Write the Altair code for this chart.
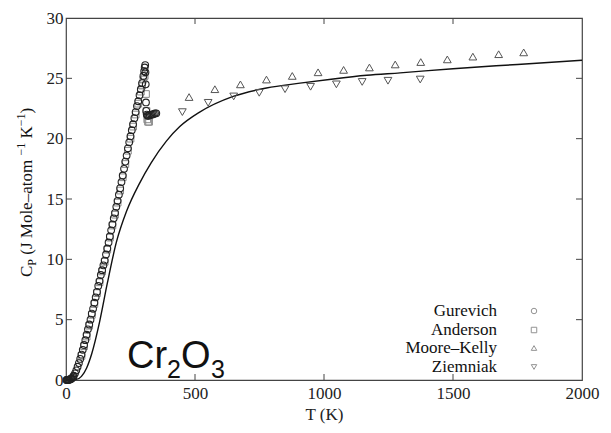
import altair as alt
import pandas as pd

# ---------------- data ----------------
gur_T = [2, 4, 6, 8, 10, 12, 15, 18, 20, 22, 25, 28, 30, 35, 40, 45, 50, 55, 60, 65, 70, 75, 80, 85, 90, 95,
         100, 105, 110, 115, 120, 125, 130, 135, 140, 145, 150, 155, 160, 165, 170, 175, 180, 185, 190, 195,
         200, 205, 210, 215, 220, 225, 230, 235, 240, 245, 250, 255, 260, 265, 270, 275, 280, 285, 290, 295,
         300, 303, 305, 307, 308, 309, 310, 311, 313, 316, 320, 325, 330, 335, 340, 345, 350]
gur_Cp = [0.0, 0.0, 0.0, 0.01, 0.02, 0.03, 0.05, 0.08, 0.1, 0.13, 0.2, 0.28, 0.35, 0.55, 0.8, 1.1, 1.4, 1.75,
          2.1, 2.5, 2.9, 3.3, 3.75, 4.2, 4.6, 5.0, 5.5, 5.9, 6.4, 6.85, 7.3, 7.8, 8.2, 8.7, 9.1, 9.5, 9.9,
          10.4, 10.9, 11.4, 11.9, 12.4, 12.9, 13.4, 13.85, 14.35, 14.85, 15.35, 15.9, 16.4, 16.95, 17.5, 18.1,
          18.6, 19.2, 19.7, 20.2, 20.7, 21.2, 21.7, 22.2, 22.7, 23.1, 23.6, 24.1, 24.6, 25.2, 25.6, 25.9,
          26.1, 25.5, 24.5, 23.0, 22.3, 22.0, 21.9, 21.9, 21.95, 22.0, 22.0, 22.05, 22.1, 22.1]

and_T = [60, 70, 80, 90, 100, 110, 120, 130, 140, 150, 160, 170, 180, 190, 200, 210, 220, 230, 240, 250,
         260, 270, 280, 290, 295, 300, 305, 310, 312, 315, 318, 322]
and_Cp = [2.0, 2.8, 3.6, 4.5, 5.4, 6.3, 7.2, 8.1, 9.0, 9.8, 10.8, 11.8, 12.8, 13.7, 14.7, 15.7, 16.8, 17.9,
          19.0, 20.0, 21.0, 22.0, 22.9, 23.9, 24.4, 24.9, 25.2, 23.7, 22.3, 21.6, 21.4, 21.4]

mk_T = [477, 577, 676, 777, 877, 977, 1076, 1176, 1276, 1375, 1478, 1577, 1677, 1774]
mk_Cp = [23.45, 24.1, 24.5, 24.9, 25.2, 25.5, 25.7, 25.9, 26.15, 26.35, 26.57, 26.8, 27.0, 27.15]

zi_T = [451, 551, 650, 749, 849, 948, 1048, 1148, 1248, 1373]
zi_Cp = [22.2, 22.97, 23.5, 23.8, 24.1, 24.3, 24.5, 24.7, 24.8, 24.9]

fit_T = [0, 40, 60, 80, 100, 130, 160, 195, 235, 285, 330, 389, 441, 518, 648, 777, 907, 1036, 1166,
         1295, 1500, 1750, 2000]
fit_Cp = [0.0, 0.05, 0.3, 1.0, 2.2, 4.8, 8.0, 11.4, 14.0, 16.3, 18.0, 19.8, 21.0, 22.2, 23.5, 24.2, 24.6,
          24.95, 25.25, 25.45, 25.8, 26.15, 26.5]

x_ticks = [500, 1000, 1500]
y_ticks = [5, 10, 15, 20, 25]
x_labels = [0, 500, 1000, 1500, 2000]
y_labels = [0, 5, 10, 15, 20, 25, 30]
legend_names = ["Gurevich", "Anderson", "Moore\u2013Kelly", "Ziemniak"]

W, H = 516, 362
SERIF = "Liberation Serif"
SANS = "Liberation Sans"

xs = alt.Scale(domain=[0, 2000], nice=False, zero=False)
ys = alt.Scale(domain=[0, 30], nice=False, zero=False)

common = dict(labelFont=SERIF, labelFontSize=17, labelColor="#222", titleFont=SERIF, titleFontSize=17,
              titleFontWeight="normal", titleColor="#222")
xaxis = alt.Axis(values=x_labels, format="d", ticks=False, domain=False, grid=False,
                 labelPadding=5, labelFlush=False, labelOverlap=False, title="T (K)", titlePadding=5, **common)
yaxis = alt.Axis(values=y_labels, format="d", ticks=False, domain=False, grid=False,
                 labelPadding=3, labelOverlap=False, title=None, **common)


def df(T, Cp):
    return pd.DataFrame({"T": T, "Cp": Cp})


line = alt.Chart(df(fit_T, fit_Cp)).mark_line(color="#111", strokeWidth=1.4, interpolate="monotone").encode(
    x=alt.X("T:Q", scale=xs, axis=xaxis), y=alt.Y("Cp:Q", scale=ys, axis=yaxis))


def pts(T, Cp, shape, color, size, sw=1.0):
    return alt.Chart(df(T, Cp)).mark_point(shape=shape, filled=False, color=color, size=size,
                                           strokeWidth=sw, opacity=1).encode(
        x=alt.X("T:Q", scale=xs, axis=xaxis), y=alt.Y("Cp:Q", scale=ys, axis=yaxis))


anderson = pts(and_T, and_Cp, "square", "#8a8a8a", 45)
gurevich = pts(gur_T, gur_Cp, "circle", "#222", 45, 1.1)
moore = pts(mk_T, mk_Cp, "triangle-up", "#555", 60)
ziem = pts(zi_T, zi_Cp, "triangle-down", "#555", 60)

xt = pd.DataFrame({"T": x_ticks})
yt = pd.DataFrame({"Cp": y_ticks})
tick_color = "#444"
ticks = [
    alt.Chart(xt).mark_rule(color=tick_color).encode(x=alt.X("T:Q", scale=xs, axis=xaxis), y=alt.value(H), y2=alt.value(H - 6)),
    alt.Chart(xt).mark_rule(color=tick_color).encode(x=alt.X("T:Q", scale=xs, axis=xaxis), y=alt.value(0), y2=alt.value(6)),
    alt.Chart(yt).mark_rule(color=tick_color).encode(y=alt.Y("Cp:Q", scale=ys, axis=yaxis), x=alt.value(0), x2=alt.value(6)),
    alt.Chart(yt).mark_rule(color=tick_color).encode(y=alt.Y("Cp:Q", scale=ys, axis=yaxis), x=alt.value(W), x2=alt.value(W - 6)),
]


def label(txt, x, y, size, font=SERIF, angle=0, align="left", baseline="alphabetic"):
    kw = dict(font=font, fontSize=size, align=align, baseline=baseline, color="#111")
    if angle:
        kw["angle"] = angle
    return alt.Chart(pd.DataFrame({"s": [txt]})).mark_text(**kw).encode(
        x=alt.value(x), y=alt.value(y), text="s:N")


texts = []
# rotated y-axis title: C_P (J Mole–atom^-1 K^-1)
bx = -34
sp = 4.25
texts.append(label("C", bx, 259, 17, angle=270))
texts.append(label("P", bx + 4, 247.7, 12, angle=270))
texts.append(label("(J Mole\u2013atom", bx, 241 - sp, 17, angle=270))
texts.append(label("\u22121", bx - 7, 137.5, 12, angle=270))
texts.append(label("K", bx, 124.7 - sp, 17, angle=270))
texts.append(label("\u22121", bx - 7, 108.2, 12, angle=270))
texts.append(label(")", bx, 95.4, 17, angle=270))

# Cr2O3 label
texts.append(label("Cr", 61, 350, 38, font=SANS))
texts.append(label("2", 101, 360, 25, font=SANS))
texts.append(label("O", 115, 350, 38, font=SANS))
texts.append(label("3", 145, 360, 25, font=SANS))

# legend
leg_y = [293, 312, 330, 349]
leg_shapes = ["circle", "square", "triangle-up", "triangle-down"]
legend = []
for name, yy, shp in zip(legend_names, leg_y, leg_shapes):
    legend.append(label(name, 431, yy, 17, align="right", baseline="middle"))
    legend.append(alt.Chart(pd.DataFrame({"s": [name]})).mark_point(
        shape=shp, filled=False, color="#666", size=30, strokeWidth=1).encode(
        x=alt.value(468), y=alt.value(yy)))

chart = alt.layer(line, anderson, gurevich, moore, ziem, *ticks, *texts, *legend).properties(
    width=W, height=H,
    autosize=alt.AutoSizeParams(type="none"),
    padding={"left": 58, "top": 10, "right": 21, "bottom": 45},
).configure(background="white", font=SERIF).configure_view(
    stroke="#444", strokeWidth=1.2).configure_axis(**common)

chart.save("out.html", embed_options={"renderer": "svg", "actions": False})
